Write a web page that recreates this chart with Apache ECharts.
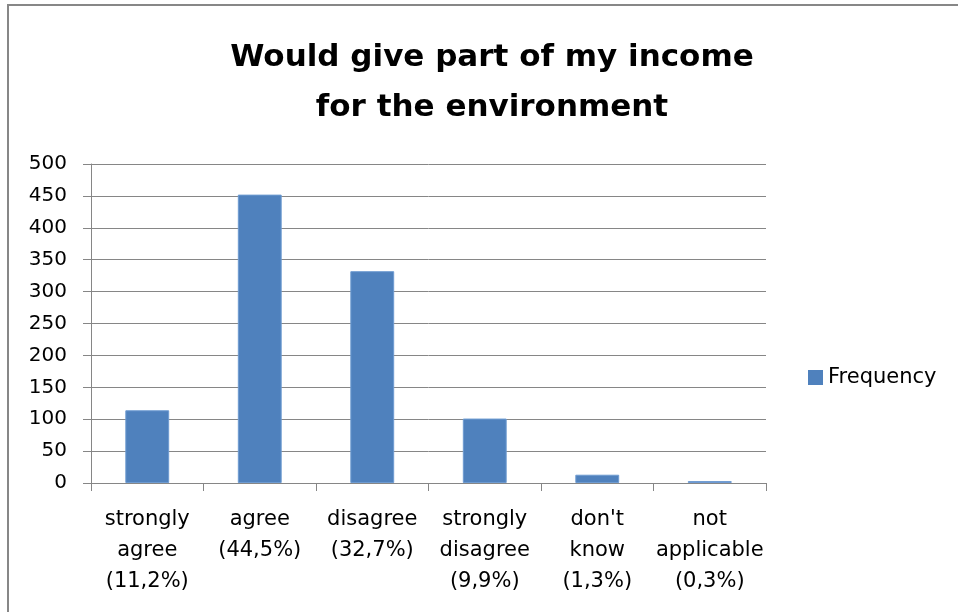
<!DOCTYPE html>
<html>
<head>
<meta charset="utf-8">
<script src="https://cdn.jsdelivr.net/npm/echarts@6/dist/echarts.min.js"></script>
<style>
html,body{margin:0;padding:0;background:#fff;}
#chart{width:958px;height:612px;}
</style>
</head>
<body>
<div id="chart"></div>
<script>
var categories = ["strongly\nagree\n(11,2%)", "agree\n(44,5%)", "disagree\n(32,7%)", "strongly\ndisagree\n(9,9%)", "don't\nknow\n(1,3%)", "not\napplicable\n(0,3%)"];
var frequency = [114, 452, 332, 101, 13, 3];
var seriesName = "Frequency";
var titleText = "Would give part of my income\nfor the environment";

var chart = echarts.init(document.getElementById('chart'));
var font = "'DejaVu Sans', sans-serif";
chart.setOption({
  animation: false,
  backgroundColor: '#fff',
  graphic: [{
    type: 'rect', silent: true,
    shape: {x: 8, y: 5, width: 1200, height: 1200},
    style: {fill: 'none', stroke: '#878787', lineWidth: 2}
  }],
  title: {
    text: titleText,
    left: 487, top: 28, textAlign: 'center',
    textStyle: {fontFamily: font, fontWeight: 'bold', fontSize: 31, lineHeight: 50, color: '#000'}
  },
  legend: {
    data: [seriesName],
    left: 803, top: 362,
    itemWidth: 15, itemHeight: 15, itemGap: 6, icon: 'rect',
    itemStyle: {borderWidth: 0},
    textStyle: {fontFamily: font, fontSize: 21, color: '#000'}
  },
  grid: {left: 91, right: 192, top: 164, bottom: 129, containLabel: false},
  xAxis: {
    type: 'category',
    data: categories,
    axisLine: {lineStyle: {color: '#868686', width: 1}},
    axisTick: {show: true, length: 8, lineStyle: {color: '#868686'}},
    axisLabel: {fontFamily: font, fontSize: 21, color: '#000', lineHeight: 31, margin: 21, interval: 0}
  },
  yAxis: {
    type: 'value', min: 0, max: 500, interval: 50,
    axisLine: {show: true, lineStyle: {color: '#868686'}},
    axisTick: {show: true, length: 8, lineStyle: {color: '#868686'}},
    splitLine: {lineStyle: {color: '#868686', width: 1}},
    axisLabel: {fontFamily: font, fontSize: 20, color: '#000', margin: 24}
  },
  series: [{
    name: seriesName,
    type: 'bar',
    data: frequency,
    barWidth: '39%',
    itemStyle: {color: '#4f81bd', borderColor: '#6e9bd1', borderWidth: 1}
  }]
});
</script>
</body>
</html>
